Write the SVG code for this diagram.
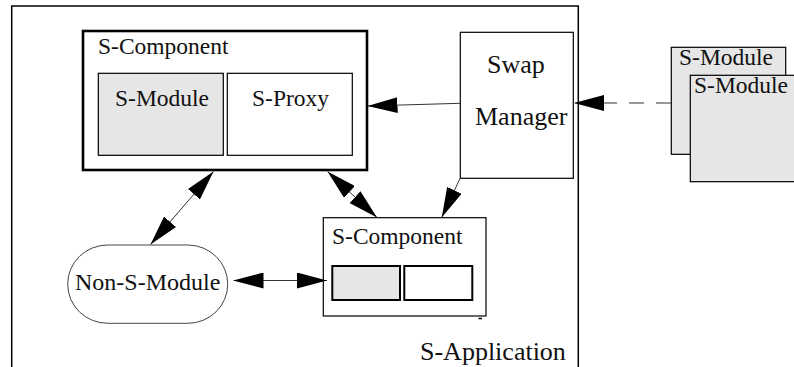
<svg xmlns="http://www.w3.org/2000/svg" width="794" height="367" viewBox="0 0 794 367">
  <style>
    text { font-family: "Liberation Serif", "Times New Roman", serif; fill: #111; }
    .t23 { font-size: 23.5px; }
    .t26 { font-size: 26px; }
    .thin { fill: #fff; stroke: #000; stroke-width: 1.2; }
    .mod { fill: #e6e6e6; stroke: #000; stroke-width: 1.2; }
    .conn { fill: none; stroke: #333; stroke-width: 1; }
  </style>
  <defs>
    <marker id="head" viewBox="0 -8 30 16" refX="30" refY="0" markerWidth="30" markerHeight="16" markerUnits="userSpaceOnUse" orient="auto-start-reverse">
      <path d="M0,-8 L30,0 L0,8 z" fill="#000"/>
    </marker>
  </defs>

  <rect width="794" height="367" fill="#fff"/>

  <!-- application frame (open at the bottom) -->
  <g id="s-application">
    <path d="M11.7,367 L11.7,6 L578.3,6 L578.3,367" fill="none" stroke="#000" stroke-width="1.5"/>
    <text class="t26" x="420" y="360">S-Application</text>
  </g>

  <!-- main component with module and proxy -->
  <g id="s-component-main">
    <rect x="83" y="31" width="284" height="139" fill="#fff" stroke="#000" stroke-width="2.6"/>
    <text class="t23" x="98" y="54">S-Component</text>
    <rect class="mod" x="98.3" y="73.3" width="125" height="82"/>
    <text class="t23" x="115" y="106">S-Module</text>
    <rect class="thin" x="227.3" y="73.3" width="125" height="82"/>
    <text class="t23" x="252" y="106">S-Proxy</text>
  </g>

  <g id="swap-manager">
    <rect class="thin" x="460.3" y="32.3" width="113" height="146"/>
    <text class="t26" x="487" y="73">Swap</text>
    <text class="t26" x="475" y="125">Manager</text>
  </g>

  <!-- incoming replacement modules -->
  <g id="s-module-stack">
    <rect class="mod" x="671.3" y="47.3" width="114.4" height="107"/>
    <text class="t23" x="679" y="65">S-Module</text>
    <rect class="mod" x="690.3" y="75.3" width="110" height="106.4"/>
    <text class="t23" x="694" y="93">S-Module</text>
  </g>

  <g id="s-component-small">
    <rect class="thin" x="323.3" y="217.7" width="162.7" height="98.3"/>
    <text class="t23" x="332" y="243.5">S-Component</text>
    <rect x="332.3" y="266" width="67.7" height="34" fill="#e6e6e6" stroke="#000" stroke-width="2"/>
    <rect x="404.3" y="266" width="68" height="34" fill="#fff" stroke="#000" stroke-width="2"/>
    <line x1="478.5" y1="318.5" x2="482" y2="318.5" stroke="#000" stroke-width="1.5"/>
  </g>

  <g id="non-s-module">
    <rect x="67.7" y="245" width="160" height="78.3" rx="40" ry="39" fill="#fff" stroke="#444" stroke-width="1"/>
    <text style="font-size:24px" x="75" y="290">Non-S-Module</text>
  </g>

  <g id="connectors">
    <path class="conn" d="M460,103.3 L367.5,106" stroke="#555" marker-end="url(#head)"/>
    <path class="conn" d="M671,103 L574,103" stroke="#444" stroke-width="1.2" stroke-dasharray="15 12" marker-end="url(#head)"/>
    <path class="conn" d="M460,178.5 L441.7,217.5" stroke="#555" marker-end="url(#head)"/>
    <path class="conn" d="M213.5,171.5 L150.5,244.5" marker-start="url(#head)" marker-end="url(#head)"/>
    <path class="conn" d="M327.5,171.5 L377,217.5" marker-start="url(#head)" marker-end="url(#head)"/>
    <path class="conn" d="M233.5,280.5 L327,280.5" stroke="#000" marker-start="url(#head)" marker-end="url(#head)"/>
  </g>
</svg>
